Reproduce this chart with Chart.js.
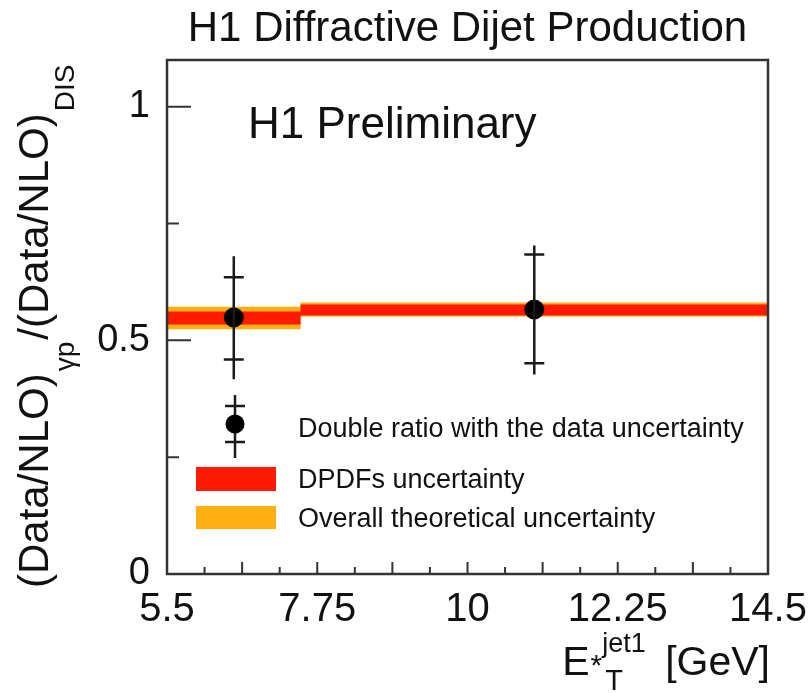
<!DOCTYPE html>
<html>
<head>
<meta charset="utf-8">
<title>H1 Diffractive Dijet Production</title>
<script src="https://cdn.jsdelivr.net/npm/chart.js@4.4.0/dist/chart.umd.min.js"></script>
<style>
  html, body { margin: 0; padding: 0; background: #fff; }
  #wrap { width: 808px; height: 693px; }
</style>
</head>
<body>
<div id="wrap"><canvas id="ratioChart" width="808" height="693"></canvas></div>
<script>
// Bins in E*T jet1 (GeV)
const binEdges = [5.5, 7.5, 14.5];
const binCentres = [6.5, 11.0];

// Double ratio with inner and outer error bars
const doubleRatio = [0.549, 0.566];
const innerLow = [0.459, 0.451];
const innerHigh = [0.635, 0.684];
const outerLow = [0.417, 0.427];
const outerHigh = [0.680, 0.703];

// Theory bands per bin
const dpdfLow = [0.534, 0.553];
const dpdfHigh = [0.562, 0.577];
const theoryLow = [0.524, 0.551];
const theoryHigh = [0.572, 0.581];

// Axis ticks
const xTickLabels = ['5.5', '7.75', '10', '12.25', '14.5'];
const xMinorStep = 0.5625;
const yTickValues = [0, 0.25, 0.5, 0.75, 1];
const yTickLabels = ['0', '', '0.5', '', '1'];

const RED = '#ff1a00';
const ORANGE = '#ffae14';
const FONT = '"Liberation Sans", Arial, Helvetica, sans-serif';

const xTickValues = [];
for (let v = 5.5; v <= 14.5 + 1e-6; v += xMinorStep) xTickValues.push(+v.toFixed(4));

function xLabelFor(v) {
    const hit = xTickLabels.find(l => Math.abs(parseFloat(l) - v) < 1e-6);
    return hit || '';
}

// step shaped band edge: one level per bin
function stepPoints(vals) {
    const pts = vals.map((v, i) => ({ x: binEdges[i], y: v }));
    pts.push({ x: binEdges[binEdges.length - 1], y: vals[vals.length - 1] });
    return pts;
}

function bandLine(vals, fill, color) {
    return {
        type: 'line',
        data: stepPoints(vals),
        stepped: true,
        showLine: true,
        borderColor: 'rgba(0,0,0,0)',
        borderWidth: 1,
        pointRadius: 0,
        fill: fill,
        backgroundColor: color
    };
}

// draw a row of text pieces with their own size and baseline shift
function richText(ctx, parts, x, y) {
    let cx = x;
    parts.forEach(p => {
        ctx.font = p.size + 'px ' + FONT;
        ctx.fillText(p.text, cx + (p.dx || 0), y + (p.dy || 0));
        if (!p.stack) cx += ctx.measureText(p.text).width + (p.dx || 0);
    });
    return cx;
}

function richWidth(ctx, parts) {
    let w = 0;
    parts.forEach(p => {
        ctx.font = p.size + 'px ' + FONT;
        if (!p.stack) w += ctx.measureText(p.text).width + (p.dx || 0);
    });
    return w;
}

function errorBar(ctx, x, yLo, yHi, yBar1, yBar2) {
    ctx.beginPath();
    ctx.moveTo(x, yLo);
    ctx.lineTo(x, yHi);
    ctx.moveTo(x - 10, yBar1);
    ctx.lineTo(x + 10, yBar1);
    ctx.moveTo(x - 10, yBar2);
    ctx.lineTo(x + 10, yBar2);
    ctx.stroke();
}

const decorations = {
    id: 'decorations',
    afterDatasetsDraw(chart) {
        const ctx = chart.ctx;
        const a = chart.chartArea;
        const xs = chart.scales.x;
        const ys = chart.scales.y;
        ctx.save();

        // error bars
        ctx.strokeStyle = '#1a1a1a';
        ctx.lineWidth = 2.5;
        binCentres.forEach((c, i) => {
            const px = xs.getPixelForValue(c);
            errorBar(ctx, px, ys.getPixelForValue(outerLow[i]), ys.getPixelForValue(outerHigh[i]),
                ys.getPixelForValue(innerLow[i]), ys.getPixelForValue(innerHigh[i]));
        });

        // frame
        ctx.strokeStyle = '#333';
        ctx.lineWidth = 2.5;
        ctx.strokeRect(a.left, a.top, a.right - a.left, a.bottom - a.top);

        // tick marks pointing inward
        ctx.lineWidth = 2;
        ctx.beginPath();
        xTickValues.forEach((v, i) => {
            const px = xs.getPixelForValue(v);
            const len = i % 2 === 0 ? 12 : 7;
            ctx.moveTo(px, a.bottom);
            ctx.lineTo(px, a.bottom - len);
        });
        yTickValues.forEach((v, i) => {
            const py = ys.getPixelForValue(v);
            const len = yTickLabels[i] ? 24 : 12;
            ctx.moveTo(a.left, py);
            ctx.lineTo(a.left + len, py);
        });
        ctx.stroke();

        // titles
        ctx.fillStyle = '#111';
        ctx.textBaseline = 'alphabetic';
        ctx.textAlign = 'center';
        ctx.font = '42px ' + FONT;
        ctx.fillText('H1 Diffractive Dijet Production', (a.left + a.right) / 2, 41);

        ctx.textAlign = 'left';
        ctx.font = '44px ' + FONT;
        ctx.fillText('H1 Preliminary', a.left + 81, 138);

        // x axis title, right aligned to frame
        const xParts = [
            { text: 'E', size: 41 },
            { text: '*', size: 30, dx: 1 },
            { text: 'T', size: 29, dy: 15, dx: 3, stack: true },
            { text: 'jet1', size: 27, dy: -23 },
            { text: ' [GeV]', size: 41, dx: 8 }
        ];
        richText(ctx, xParts, a.right + 2 - richWidth(ctx, xParts), 675);

        // y axis title, rotated, ending near the top
        const yParts = [
            { text: '(Data/NLO)', size: 42 },
            { text: 'γp', size: 28, dy: 26, dx: 2 },
            { text: '/(Data/NLO)', size: 42, dx: 2 },
            { text: 'DIS', size: 28, dy: 26, dx: 2 }
        ];
        ctx.save();
        ctx.translate(48, 588);
        ctx.rotate(-Math.PI / 2);
        richText(ctx, yParts, 0, 0);
        ctx.restore();

        // legend
        const lx = a.left + 68;
        ctx.strokeStyle = '#1a1a1a';
        ctx.lineWidth = 2.5;
        errorBar(ctx, lx, 395, 458, 406, 442);
        ctx.fillStyle = '#000';
        ctx.beginPath();
        ctx.arc(lx, 424, 9.5, 0, Math.PI * 2);
        ctx.fill();

        ctx.fillStyle = RED;
        ctx.fillRect(a.left + 29, 467, 80, 24);
        ctx.fillStyle = ORANGE;
        ctx.fillRect(a.left + 29, 506, 80, 23);

        ctx.fillStyle = '#111';
        ctx.font = '27px ' + FONT;
        ctx.fillText('Double ratio with the data uncertainty', a.left + 131, 437);
        ctx.fillText('DPDFs uncertainty', a.left + 131, 488);
        ctx.fillText('Overall theoretical uncertainty', a.left + 131, 527);

        ctx.restore();
    }
};

function createChart() {
    const ctx = document.getElementById('ratioChart').getContext('2d');
    new Chart(ctx, {
        type: 'scatter',
        data: {
            datasets: [
                {
                    label: 'Double ratio with the data uncertainty',
                    data: binCentres.map((x, i) => ({ x: x, y: doubleRatio[i] })),
                    pointRadius: 10,
                    pointHoverRadius: 10,
                    backgroundColor: '#000',
                    borderColor: '#000',
                    borderWidth: 0
                },
                bandLine(dpdfHigh, '+1', RED),
                bandLine(dpdfLow, false, RED),
                bandLine(theoryHigh, '+1', ORANGE),
                bandLine(theoryLow, false, ORANGE)
            ]
        },
        options: {
            responsive: false,
            animation: false,
            events: [],
            layout: { padding: { top: 60, right: 0, left: 0, bottom: 0 } },
            plugins: {
                legend: { display: false },
                tooltip: { enabled: false }
            },
            scales: {
                x: {
                    type: 'linear',
                    min: 5.5,
                    max: 14.5,
                    grid: { display: false },
                    border: { display: false },
                    afterBuildTicks: s => { s.ticks = xTickValues.map(v => ({ value: v })); },
                    afterFit: s => { s.height = 119; s.paddingLeft = 0; s.paddingRight = 40; },
                    ticks: {
                        autoSkip: false,
                        maxRotation: 0,
                        padding: 4,
                        color: '#111',
                        font: { family: FONT, size: 40 },
                        callback: v => xLabelFor(v)
                    }
                },
                y: {
                    type: 'linear',
                    min: 0,
                    max: 1.1,
                    grid: { display: false },
                    border: { display: false },
                    afterBuildTicks: s => { s.ticks = yTickValues.map(v => ({ value: v })); },
                    afterFit: s => { s.width = 167; s.paddingTop = 0; s.paddingBottom = 0; },
                    ticks: {
                        autoSkip: false,
                        padding: 9,
                        color: '#111',
                        font: { family: FONT, size: 38 },
                        callback: (v, i) => yTickLabels[i]
                    }
                }
            }
        },
        plugins: [decorations]
    });
}

document.addEventListener('DOMContentLoaded', createChart);
</script>
</body>
</html>
